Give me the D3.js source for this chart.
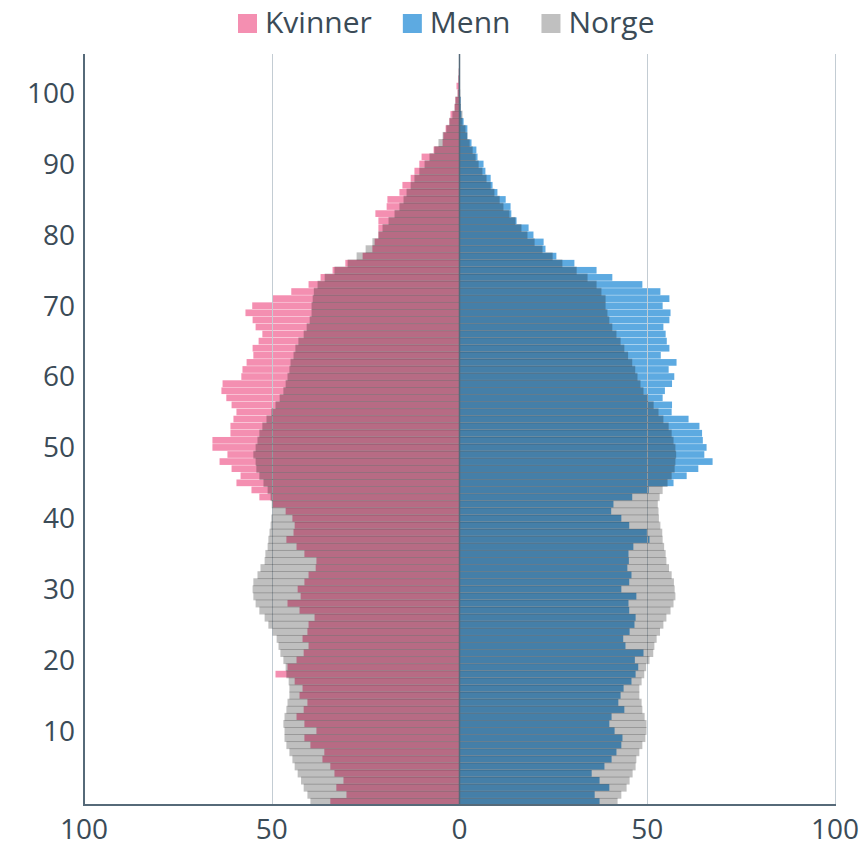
<!DOCTYPE html>
<html>
<head>
<meta charset="utf-8">
<script src="https://cdn.jsdelivr.net/npm/d3@7"></script>
<style>
	body { margin: 0; background: #fff; }
	text { font-family: "Open Sans", sans-serif; fill: #3b4b57; }
</style>
</head>
<body>
<div id="chart"></div>
<script>
'use strict';

// ages 0..105
var ages = d3.range(0, 106);

var kvinner = [34.4, 30.1, 32.8, 30.9, 33.3, 34.4, 36.5, 36.0, 39.7, 41.3,
	38.1, 41.3, 43.4, 41.5, 40.5, 42.6, 41.8, 43.9, 49.0, 45.8,
	43.4, 41.5, 40.2, 41.8, 40.5, 40.2, 38.6, 42.6, 45.8, 42.3,
	43.1, 41.3, 40.2, 38.3, 38.1, 41.3, 43.4, 46.1, 44.2, 43.9,
	44.5, 46.3, 49.8, 53.3, 55.4, 59.4, 58.3, 60.7, 63.9, 61.8,
	65.8, 65.8, 61.0, 61.0, 60.2, 59.4, 60.7, 62.1, 63.4, 63.1,
	58.1, 57.8, 56.7, 54.9, 55.1, 53.5, 52.5, 54.3, 55.1, 57.0,
	55.2, 49.9, 44.8, 40.2, 37.0, 33.8, 30.4, 25.8, 23.2, 22.6,
	21.6, 21.6, 21.6, 22.4, 19.4, 19.2, 16.0, 15.2, 13.0, 12.0,
	10.7, 10.1, 6.9, 4.5, 4.3, 3.7, 2.7, 2.4, 1.3, 1.1,
	0.5, 0.8, 0.3, 0.2, 0.1, 0.1];

var menn = [37.3, 36.0, 39.9, 37.3, 35.2, 38.6, 40.5, 41.8, 43.1, 43.4,
	41.3, 39.9, 40.5, 43.9, 42.3, 42.9, 43.7, 45.8, 46.9, 47.6,
	46.7, 49.0, 44.2, 43.6, 45.3, 46.6, 46.9, 45.2, 45.0, 47.1,
	43.1, 45.2, 45.8, 44.7, 45.1, 45.0, 46.3, 50.6, 49.9, 45.2,
	43.1, 40.4, 41.0, 46.0, 50.4, 57.0, 60.5, 63.6, 67.4, 65.2,
	65.8, 64.8, 64.6, 63.9, 61.0, 56.5, 56.6, 54.1, 54.7, 56.6,
	57.2, 55.7, 57.8, 53.6, 55.9, 55.2, 54.9, 54.3, 55.9, 56.2,
	54.1, 55.9, 53.5, 48.7, 40.7, 36.5, 30.6, 25.8, 22.9, 22.4,
	19.7, 18.4, 15.2, 13.8, 13.6, 12.3, 10.1, 8.8, 8.3, 6.9,
	6.4, 4.8, 4.5, 3.2, 2.1, 2.1, 1.1, 0.5, 0.3, 0.3,
	0.1, 0.1, 0.05, 0.05, 0, 0];

// Norge, kvinner (left) og menn (right)
var norgeKvinner = [39.7, 40.5, 41.5, 42.2, 43.1, 43.9, 44.5, 45.3, 46.1, 46.6,
	46.6, 46.9, 46.6, 46.1, 45.8, 45.3, 45.3, 45.5, 46.1, 46.3,
	46.9, 47.7, 48.2, 48.7, 49.8, 50.9, 51.9, 53.3, 54.3, 54.9,
	55.1, 54.9, 53.8, 53.0, 51.9, 51.7, 51.1, 50.9, 50.6, 50.3,
	50.1, 49.8, 50.0, 50.3, 51.1, 52.2, 53.3, 54.1, 54.3, 54.9,
	54.3, 53.8, 53.3, 52.5, 51.4, 50.1, 49.0, 47.9, 46.9, 46.3,
	45.8, 45.3, 45.0, 44.2, 43.7, 42.9, 41.5, 40.7, 39.9, 39.4,
	39.4, 39.1, 38.8, 37.8, 35.9, 33.3, 29.8, 27.4, 25.0, 23.2,
	21.6, 20.5, 18.9, 17.3, 16.0, 14.9, 14.1, 13.0, 12.0, 10.7,
	9.3, 8.0, 6.7, 5.6, 4.5, 3.5, 2.7, 1.9, 1.3, 1.1,
	0.5, 0.3, 0.3, 0.2, 0.1, 0.05];

var norgeMenn = [42.1, 43.1, 44.5, 45.3, 46.1, 46.9, 47.1, 47.9, 48.7, 49.5,
	49.8, 49.8, 49.3, 48.7, 48.5, 47.9, 47.9, 48.5, 49.2, 49.7,
	50.6, 51.6, 51.9, 52.5, 53.4, 54.3, 55.1, 56.2, 57.0, 57.5,
	57.3, 57.1, 56.5, 55.8, 55.1, 54.9, 54.5, 54.1, 54.0, 53.5,
	53.1, 53.0, 52.8, 53.3, 54.1, 55.4, 56.5, 57.3, 57.5, 57.7,
	57.5, 57.0, 56.5, 55.7, 54.3, 53.0, 51.7, 50.2, 49.0, 48.2,
	47.4, 46.8, 46.0, 44.9, 43.9, 42.9, 41.8, 40.7, 39.9, 39.4,
	38.9, 38.9, 37.8, 36.5, 34.1, 31.2, 27.4, 24.8, 22.1, 20.0,
	18.1, 16.5, 14.9, 13.3, 11.7, 10.7, 9.3, 8.3, 7.2, 6.1,
	5.1, 4.3, 3.5, 2.7, 2.1, 1.6, 0.8, 0.8, 0.4, 0.3,
	0.2, 0.1, 0.05, 0.05, 0, 0];

var xTicks = [-100, -50, 0, 50, 100];
var yTicks = [10, 20, 30, 40, 50, 60, 70, 80, 90, 100];

var legendItems = [
	{ name: 'Kvinner', color: '#f48fb1' },
	{ name: 'Menn', color: '#5daae1' },
	{ name: 'Norge', color: '#c0c0c0' }
];

var width = 861, height = 842;
var plotLeft = 84, plotRight = 835, plotTop = 54, plotBottom = 805;

var svg = d3.select('#chart').append('svg')
	.attr('width', width)
	.attr('height', height);

var x = d3.scaleLinear().domain([-100, 100]).range([plotLeft, plotRight]);
var y = d3.scaleBand().domain(ages).range([plotBottom, plotTop]).padding(0);
var bw = y.bandwidth();

// kvinner / menn
var base = svg.append('g');

base.selectAll('rect.kvinner')
	.data(ages)
	.enter().append('rect')
	.attr('class', 'kvinner')
	.attr('x', function(a) { return x(-kvinner[a]); })
	.attr('width', function(a) { return x(0) - x(-kvinner[a]); })
	.attr('y', function(a) { return y(a) + 0.4; })
	.attr('height', bw - 0.4)
	.style('fill', legendItems[0].color);

base.selectAll('rect.menn')
	.data(ages)
	.enter().append('rect')
	.attr('class', 'menn')
	.attr('x', x(0))
	.attr('width', function(a) { return x(menn[a]) - x(0); })
	.attr('y', function(a) { return y(a) + 0.4; })
	.attr('height', bw - 0.4)
	.style('fill', legendItems[1].color);

// grid
svg.append('g').selectAll('line')
	.data([-50, 50, 100])
	.enter().append('line')
	.attr('x1', function(d) { return Math.round(x(d)) + 0.5; })
	.attr('x2', function(d) { return Math.round(x(d)) + 0.5; })
	.attr('y1', plotTop)
	.attr('y2', plotBottom)
	.style('stroke', '#c3ccd3')
	.style('stroke-width', 1);

// norge over
var norge = svg.append('g').style('fill', 'rgba(0,0,0,0.25)');

norge.selectAll('rect.nk')
	.data(ages)
	.enter().append('rect')
	.attr('class', 'nk')
	.attr('x', function(a) { return x(-norgeKvinner[a]); })
	.attr('width', function(a) { return x(0) - x(-norgeKvinner[a]); })
	.attr('y', function(a) { return y(a); })
	.attr('height', bw + 0.8);

norge.selectAll('rect.nm')
	.data(ages)
	.enter().append('rect')
	.attr('class', 'nm')
	.attr('x', x(0))
	.attr('width', function(a) { return x(norgeMenn[a]) - x(0); })
	.attr('y', function(a) { return y(a); })
	.attr('height', bw + 0.8);

// axes lines
var axisColor = '#566a79';
svg.append('line')
	.attr('x1', x(0)).attr('x2', x(0))
	.attr('y1', plotTop).attr('y2', plotBottom)
	.style('stroke', axisColor).style('stroke-width', 1.5);
svg.append('line')
	.attr('x1', plotLeft).attr('x2', plotLeft)
	.attr('y1', plotTop).attr('y2', plotBottom + 1)
	.style('stroke', axisColor).style('stroke-width', 2);
svg.append('line')
	.attr('x1', plotLeft - 1).attr('x2', plotRight + 1)
	.attr('y1', plotBottom).attr('y2', plotBottom)
	.style('stroke', axisColor).style('stroke-width', 2);

// tick labels
svg.append('g').selectAll('text')
	.data(xTicks)
	.enter().append('text')
	.attr('x', function(d) { return x(d); })
	.attr('y', 839)
	.attr('text-anchor', 'middle')
	.style('font-size', '28px')
	.text(function(d) { return Math.abs(d); });

svg.append('g').selectAll('text')
	.data(yTicks)
	.enter().append('text')
	.attr('x', 75)
	.attr('y', function(d) { return y(d) + bw / 2; })
	.attr('dy', '0.36em')
	.attr('text-anchor', 'end')
	.style('font-size', '28px')
	.text(function(d) { return d; });

// legend
var lx = 238;
var legend = svg.append('g');
legendItems.forEach(function(item) {
	legend.append('rect')
		.attr('x', lx).attr('y', 14)
		.attr('width', 19).attr('height', 19)
		.style('fill', item.color);
	var t = legend.append('text')
		.attr('x', lx + 27).attr('y', 33)
		.style('font-size', '30px')
		.text(item.name);
	lx += 27 + t.node().getComputedTextLength() + 31;
});
</script>
</body>
</html>
